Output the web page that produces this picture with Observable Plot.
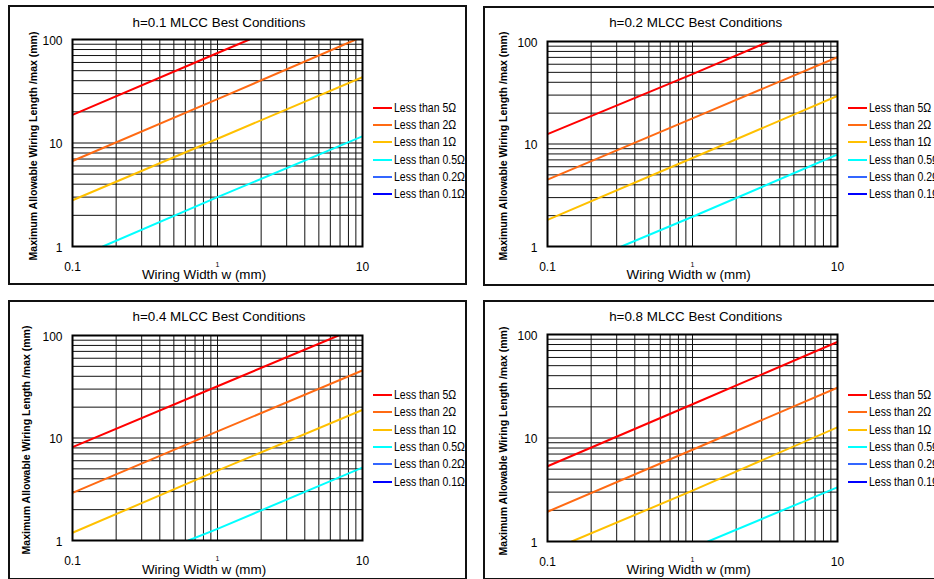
<!DOCTYPE html>
<html><head><meta charset="utf-8">
<script src="https://cdn.jsdelivr.net/npm/d3@7"></script>
<script src="https://cdn.jsdelivr.net/npm/@observablehq/plot@0.6"></script>
<style>
body{margin:0;background:#fff;width:934px;height:579px;overflow:hidden;position:relative;font-family:"Liberation Sans",Arial,sans-serif;color:#000;}
.box{position:absolute;border:2px solid #111;box-sizing:border-box;width:459px;height:280px;}
.abs{position:absolute;white-space:nowrap;line-height:1;}
.title{font-size:13.4px;transform:translate(-50%,-50%);}
.xlab{font-size:13.4px;transform:translate(-50%,-50%);}
.ylab{font-size:10.5px;font-weight:bold;transform:translate(-50%,-50%) rotate(-90deg);}
.leg{font-family:"Liberation Sans",Arial,sans-serif;font-size:12.5px;transform-origin:0 50%;transform:translateY(-50%) scaleX(0.84);}
.sw{position:absolute;height:2px;transform:translateY(-50%);}
svg{position:absolute;overflow:visible;}
</style></head><body>
<script>
// ---- data ----
const xTicks = [0.1, 1, 10];
const yTicks = [1, 10, 100];
const xGrid = [0.2, 0.3, 0.4, 0.5, 0.6, 0.7, 0.8, 0.9, 1, 2, 3, 4, 5, 6, 7, 8, 9];
const yGrid = [2, 3, 4, 5, 6, 7, 8, 9, 10, 20, 30, 40, 50, 60, 70, 80, 90];
const seriesNames = ["Less than 5\u03A9", "Less than 2\u03A9", "Less than 1\u03A9", "Less than 0.5\u03A9", "Less than 0.2\u03A9", "Less than 0.1\u03A9"];
const seriesColors = ["#ff0000", "#ff6a13", "#ffc000", "#00ffff", "#3366ff", "#0000ff"];
const panelTitles = ["h=0.1 MLCC Best Conditions", "h=0.2 MLCC Best Conditions", "h=0.4 MLCC Best Conditions", "h=0.8 MLCC Best Conditions"];
const xLabel = "Wiring Width w (mm)";
const yLabel = "Maximum Allowable Wiring Length /max (mm)";

// h=0.1  [w, length]
const h01_5  = [[0.1, 18.7], [1, 74], [1.66, 100]];
const h01_2  = [[0.1, 6.7], [1, 26.5], [9.0, 100]];
const h01_1  = [[0.1, 2.8], [1, 11], [10, 43.3]];
const h01_05 = [[0.162, 1], [1, 3.0], [10, 11.6]];
// h=0.2
const h02_5  = [[0.1, 12.5], [1, 48], [3.36, 100]];
const h02_2  = [[0.1, 4.49], [1, 17.8], [10, 70.3]];
const h02_1  = [[0.1, 1.82], [1, 7.3], [10, 29.4]];
const h02_05 = [[0.324, 1], [1, 1.95], [10, 7.9]];
// h=0.4
const h04_5  = [[0.1, 8.14], [1, 32], [6.83, 100]];
const h04_2  = [[0.1, 2.92], [1, 11.6], [10, 45.6]];
const h04_1  = [[0.1, 1.19], [1, 4.8], [10, 18.8]];
const h04_05 = [[0.63, 1], [1, 1.3], [10, 5.15]];
// h=0.8
const h08_5  = [[0.1, 5.33], [1, 21.2], [10, 84.9]];
const h08_2  = [[0.1, 1.94], [1, 7.7], [10, 30.6]];
const h08_1  = [[0.147, 1], [1, 3.1], [10, 12.7]];
const h08_05 = [[1.28, 1], [10, 3.34]];

const panels = [
  {title: panelTitles[0], series: [h01_5, h01_2, h01_1, h01_05, [], []], box: [8, 5],   plot: [72, 39, 290, 207],  titleXY: [219, 22.7],  xlab: [204, 275],   ylab: [33, 146],    legY: 108, legDy: 17.2},
  {title: panelTitles[1], series: [h02_5, h02_2, h02_1, h02_05, [], []], box: [483, 6], plot: [547, 41, 290, 205], titleXY: [695.7, 22.7], xlab: [688.7, 275], ylab: [502.7, 146], legY: 108, legDy: 17.2},
  {title: panelTitles[2], series: [h04_5, h04_2, h04_1, h04_05, [], []], box: [8, 300], plot: [72, 335, 290, 205], titleXY: [219, 317.3], xlab: [204, 570],   ylab: [26, 440],    legY: 395, legDy: 17.3},
  {title: panelTitles[3], series: [h08_5, h08_2, h08_1, h08_05, [], []], box: [483, 300], plot: [547, 334, 290, 207], titleXY: [695.7, 317.3], xlab: [688.7, 570], ylab: [502.7, 441], legY: 395, legDy: 17.3}
];

// ---- drawing ----
function el(cls, x, y, text) {
  const d = document.createElement("div");
  d.className = "abs " + cls;
  d.style.left = x + "px"; d.style.top = y + "px";
  if (text != null) d.textContent = text;
  document.body.appendChild(d);
  return d;
}

const ml = 50, mr = 10, mt = 10, mb = 30;
for (const p of panels) {
  const box = document.createElement("div");
  box.className = "box";
  box.style.left = p.box[0] + "px"; box.style.top = p.box[1] + "px";
  document.body.appendChild(box);

  const rows = [];
  p.series.forEach((pts, i) => pts.forEach(([x, y]) => rows.push({x, y, s: seriesNames[i]})));
  const [px, py, pw, ph] = p.plot;
  const gridStyle = {stroke: "#111", strokeOpacity: 1, strokeWidth: 1};
  const svg = Plot.plot({
    width: pw + ml + mr, height: ph + mt + mb,
    marginLeft: ml, marginRight: mr, marginTop: mt, marginBottom: mb,
    x: {type: "log", domain: [0.1, 10]},
    y: {type: "log", domain: [1, 100]},
    color: {domain: seriesNames, range: seriesColors},
    style: {fontFamily: "Liberation Sans, Arial, sans-serif", fontSize: "12px", background: "transparent", color: "#000"},
    marks: [
      Plot.gridX(xGrid, gridStyle),
      Plot.gridY(yGrid, gridStyle),
      Plot.line(rows, {x: "x", y: "y", z: "s", stroke: "s", strokeWidth: 2, clip: true}),
      Plot.frame({stroke: "#000", strokeWidth: 2}),
      Plot.axisX([0.1, 10], {tickSize: 0, tickPadding: 16, tickFormat: d => String(d), fontSize: 12, label: null}),
      Plot.axisX([1], {tickSize: 0, tickPadding: 16, tickFormat: d => String(d), fontSize: 7, label: null}),
      Plot.axisY(yTicks, {tickSize: 0, tickPadding: 10, tickFormat: d => String(d), fontSize: 12, dy: 1.5, label: null})
    ]
  });
  svg.style.left = (px - ml) + "px";
  svg.style.top = (py - mt) + "px";
  document.body.appendChild(svg);

  el("title", p.titleXY[0], p.titleXY[1], p.title);
  el("xlab", p.xlab[0], p.xlab[1], xLabel);
  el("ylab", p.ylab[0], p.ylab[1], yLabel);

  const right = px + pw;
  seriesNames.forEach((name, i) => {
    const y = p.legY + i * p.legDy;
    const sw = document.createElement("div");
    sw.className = "sw";
    sw.style.left = (right + 11) + "px"; sw.style.top = y + "px";
    sw.style.width = "19px"; sw.style.background = seriesColors[i];
    document.body.appendChild(sw);
    el("leg", right + 32, y, name);
  });
}
</script>
</body></html>
